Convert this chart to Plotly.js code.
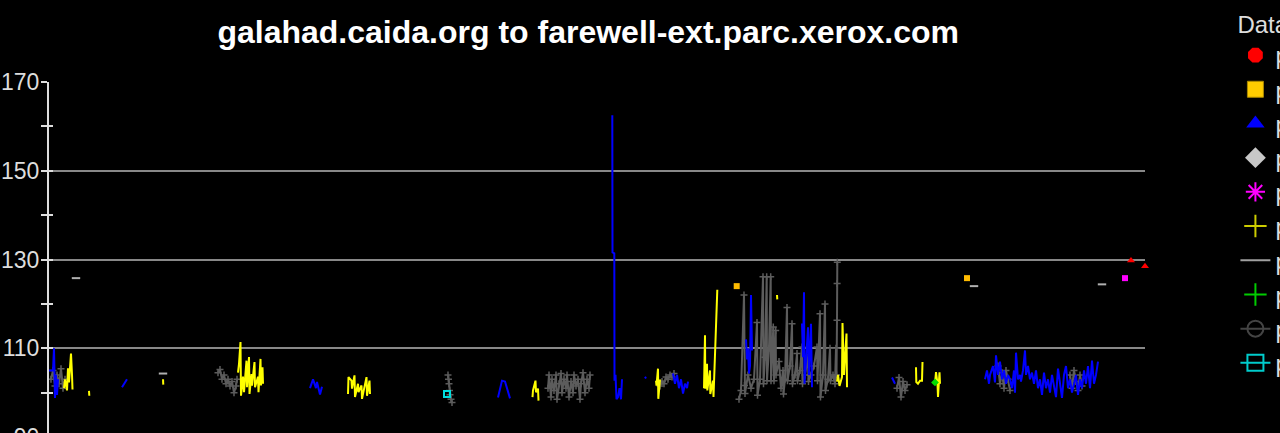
<!DOCTYPE html>
<html><head><meta charset="utf-8">
<script src="https://cdn.plot.ly/plotly-3.0.1.min.js"></script>
<style>html,body{margin:0;padding:0;background:#000;overflow:hidden;width:1280px;height:433px}</style>
</head><body><div id="chart" style="width:1400px;height:480px"></div>
<script>
// ---- data (x = time index, y = RTT ms) ----
const chartTitle = "galahad.caida.org to farewell-ext.parc.xerox.com";
const legendTitle = "Data sets";
const seriesNames = ["path 1","path 2","path 3","path 4","path 5","path 6","path 7","path 8","path 9","path 10"];
const yTicks = [90,110,130,150,170];

const redPts = [[1082,129.8],[1096,128.5]];
const orangePts = [[687.7,124],[918,125.8]];
const magentaPts = [[1076,125.8]];
const greenPts = [[886,102.3]];
const cyanPts = [[398,99.7]];
const lightGrayPts = [[27,125.8],[114,104.3],[925,124],[1053,124.4]];

const bluePts = [
 [0,105],[4,105],[5,110],[6,98.8],[7,104],[8,99.5],[9,103], null,
 [73,101.2],[75,102],[78,103], null,
 [261,101],[264,103],[267,101],[268,102.4],[271,99.6],[273,101.3], null,
 [449,98.9],[453,102.7],[456,102.5],[458,101],[460,99],[461,98.7], null,
 [563.3,162.5],[563.5,131.6],[565.3,131.4],[565.5,102.7],[566.5,104],[567.5,98.5],[569,99],[570.5,101],[572,98.5],[573,103], null,
 [596,103.6],[597,103.2], null,
 [624,104.3],[626,102],[628,104],[630,101],[632,103],[634,99.8],[636,102],[638,101],[639,102.5], null,
 [697,112],[698,107.5],[699,110],[700,104.3],[701,106],[702,122],[703,109.5], null,
 [753,115.6],[754,108],[755,122.6],[755.5,102],[757,107],[758,110],[759,114.7],[760,104],[762,115.5],[763,101.2], null,
 [843,103.4],[845,102.5],[846,102], null,
 [936,103],[938,105],[940,102],[941,104],[944,106],[946,102.3],[947,108.4],[949,104],[951,107],[953,103],[955,105],[957,102],[959,104],[961,103],[963,101],[965,105],[966,100],[967,109],[969,103],[971,104],[972,102.5],[974,105],[976,109.5],[977,104],[979,106],[981,103],[983,104.5],[985,102],[987,105],[989,101],[991,103],[993,99.5],[995,104.5],[997,101],[999,103],[1001,100],[1003,104],[1005,101.5],[1007,99],[1009,105.4],[1011,102],[1013,98.8],[1015,104],[1017,106],[1019,101],[1021,103],[1023,100],[1025,102],[1027,104],[1029,99.5],[1031,103],[1033,101],[1035,105],[1037,102],[1039,106],[1041,101],[1043,107.2],[1045,102],[1047,104],[1049,107]
];

const yellowPts = [
 [15,101],[16,103],[18,100.5],[19,105.5],[20,102.3],[21,107],[22,108.8],[23,104],[23.5,100.7], null,
 [40,100.4],[40.3,99.3], null,
 [114,103],[114.3,101.8], null,
 [189,104.5],[190,106.5],[191.5,111.4],[192,99.3],[194,103.6],[195,100.1],[197.5,107.2],[198,101.2],[200,108],[200.5,99.7],[202.5,104.2],[203,101.6],[205.5,106.9],[206,101.2],[209,103.6],[209.5,100.1],[211.5,107.6],[212,101.6],[213.5,105.7],[214,102], null,
 [299,99.7],[299.5,103.5],[302.5,102.7],[303,100.9],[305.5,103.9],[306,99],[309,102],[309.5,100.1],[312.5,101.6],[313,98.6],[317.5,103.5],[318,99.3],[320.5,102.7],[321,99.7], null,
 [483.5,99],[484,100.5],[486.5,102.7],[487,100.1],[489,100.9],[489.5,98.2], null,
 [607,102.7],[607.5,101.6],[609,105.4],[609.3,98.6],[611,103], null,
 [655,101],[656,112.9],[656.3,100.9],[658,106.5],[658.3,100.5],[661,105],[661.3,99.7],[664,102.7],[664.5,99],[666.5,112.1],[668.3,123.2], null,
 [728,122],[728.3,121], null,
 [788,102.5],[789,104],[790.5,101.5],[793,103.5],[793.5,115.7],[795,104],[797.5,113.3],[798,101.2], null,
 [867,105.7],[867.3,102.4],[869,102],[871,102.7],[873,102.7],[873.5,106.9], null,
 [886,102],[887,104.6],[888.5,102],[889,99],[890.5,104.6],[891,102]
];

const darkGrayPts = [
 [2,103],[4,105],[6,101.5],[8,104],[10,102],[12,105.4],[14,101],[16,103], null,
 [169,104.5],[171,105.2],[173,103],[175,104],[177,102],[179,103],[181,101.5],[183,102.5],[185,100],[187,101.5],[188,103], null,
 [399,104],[399.5,103],[400,102],[400.5,100.5],[401,99.5],[402,98.5],[403,97.8], null,
 [499,101],[500,104],[502,99],[503,103],[505,100.5],[507,104],[508,98.5],[510,102],[512,104.3],[513,100],[515,103],[517,101],[518,104],[520,99],[522,102.5],[524,100],[525,104],[527,101.5],[529,103],[531,98.5],[532,102],[534,104.5],[536,100],[538,103],[540,101],[541,104], null,
 [611,101.5],[613,102.5],[615,102],[617,103.5],[619,103],[621,104],[623,103.5],[625,104.3], null,
 [690,98.5],[692,100.5],[695,122],[695.5,101.6],[696,99.8],[699,104],[702,101],[705,103],[708,115.8],[708.5,99.4],[711,103],[714,126.1],[714.5,102],[716,108],[717.7,126.1],[718,102.7],[720,110],[721.7,126.1],[722,102.7],[724.3,114.8],[725,102.7],[726.7,114],[727,104],[730,107],[732,101],[734,105],[734.5,99.7],[736,103],[738,119.2],[738.5,102.7],[741,106],[743,115.5],[743.5,102],[746,104],[748,108.8],[748.5,102.7],[751,105],[753,110.3],[753.5,102],[756,104],[759,108],[759.5,102.5],[762,104],[765,106],[768,110.3],[768.5,102.7],[771,117.8],[771.5,99],[774,104],[776,120],[776.5,100.5],[779,103],[781,110],[781.5,102.7],[784,104],[786,102],[787,110],[787.5,104],[788,116.3],[788.1,124.6],[788.3,129.4], null,
 [848,101],[850,103.4],[852,99],[854,102.5],[856,100.5],[858,101.8], null,
 [949,106],[951,102],[953,104.5],[955,101],[957,105],[959,103],[961,100.5], null,
 [1021,104],[1023,101],[1025,105],[1027,102.5],[1029,100.5],[1031,104],[1033,101.5]
];

// ---- build ----
function xs(p){return p.map(d=>d?d[0]:null);}
function ys(p){return p.map(d=>d?d[1]:null);}

const GRAY = '#5c5c5c';
const FONT = 'Liberation Sans, Arial, sans-serif';
const data = [];
data.push({x:xs(darkGrayPts),y:ys(darkGrayPts),mode:'lines+markers',line:{color:GRAY,width:2},
  marker:{symbol:'cross-thin-open',size:5,color:GRAY,line:{color:GRAY,width:1.5}},showlegend:false,connectgaps:false});
data.push({x:xs(yellowPts),y:ys(yellowPts),mode:'lines',line:{color:'#ffff00',width:2},showlegend:false,connectgaps:false});
data.push({x:xs(bluePts),y:ys(bluePts),mode:'lines',line:{color:'#0000ff',width:2},showlegend:false,connectgaps:false});
data.push({x:xs(lightGrayPts),y:ys(lightGrayPts),mode:'markers',marker:{symbol:'line-ew',size:6,line:{color:'#b0b0b0',width:2}},showlegend:false});
data.push({x:xs(orangePts),y:ys(orangePts),mode:'markers',marker:{symbol:'square',size:6,color:'#ffbb00'},showlegend:false});
data.push({x:xs(magentaPts),y:ys(magentaPts),mode:'markers',marker:{symbol:'square',size:6,color:'#ff00ff'},showlegend:false});
data.push({x:xs(redPts),y:ys(redPts),mode:'markers',marker:{symbol:'triangle-up',size:7,color:'#ff0000'},showlegend:false,cliponaxis:false});
data.push({x:xs(greenPts),y:ys(greenPts),mode:'markers',marker:{symbol:'diamond',size:6,color:'#00dd00'},showlegend:false});
data.push({x:xs(cyanPts),y:ys(cyanPts),mode:'markers',marker:{symbol:'square-open',size:6,color:'#00dddd',line:{width:2,color:'#00dddd'}},showlegend:false});
const legendStyles = [
 {mode:'markers',marker:{symbol:'octagon',size:16,color:'#ff0000'}},
 {mode:'markers',marker:{symbol:'square',size:16,color:'#ffcc00',line:{color:'#aa8800',width:1}}},
 {mode:'markers',marker:{symbol:'triangle-up',size:16,color:'#0000ff'}},
 {mode:'markers',marker:{symbol:'diamond',size:16,color:'#c8c8c8'}},
 {mode:'markers',marker:{symbol:'asterisk-open',size:16,color:'#ff00ff',line:{color:'#ff00ff',width:2}}},
 {mode:'markers',marker:{symbol:'cross-thin-open',size:16,color:'#cccc00',line:{color:'#cccc00',width:2}}},
 {mode:'lines',line:{color:'#a0a0a0',width:2}},
 {mode:'markers',marker:{symbol:'cross-thin-open',size:16,color:'#00cc00',line:{color:'#00cc00',width:2}}},
 {mode:'lines+markers',line:{color:'#444444',width:2},marker:{symbol:'circle-open',size:16,color:'#444444',line:{color:'#444444',width:2}}},
 {mode:'lines+markers',line:{color:'#00cccc',width:2},marker:{symbol:'square-open',size:16,color:'#00cccc',line:{color:'#00cccc',width:2}}}
];
legendStyles.forEach((s,i)=>{
  data.push(Object.assign({x:[null],y:[null],name:seriesNames[i],showlegend:true,hoverinfo:'skip'},s));
});
data.push({x:[],y:[],yaxis:'y2',showlegend:false,hoverinfo:'skip'});

const layout = {
  width:1400,height:480,
  paper_bgcolor:'#000',plot_bgcolor:'#000',
  margin:{l:49,r:255,t:82,b:43,autoexpand:false},
  hovermode:false,
  title:{text:chartTitle,font:{family:FONT,size:32,color:'#ffffff',weight:'bold'},
    x:0.492,xref:'paper',xanchor:'center',y:1-32/480,yref:'container',yanchor:'middle'},
  xaxis:{range:[0,1096],showgrid:false,zeroline:false,showticklabels:false,ticks:'',showline:true,linecolor:'#dddddd',linewidth:2,fixedrange:true},
  yaxis:{range:[90,170],tickvals:yTicks,ticks:'outside',ticklen:6,tickwidth:2,tickcolor:'#dddddd',
    showgrid:true,gridcolor:'#888888',gridwidth:2,zeroline:false,showline:true,linecolor:'#dddddd',linewidth:2,
    minor:{tickvals:[100,120,140,160],ticks:'outside',ticklen:6,tickwidth:2,tickcolor:'#dddddd',showgrid:false},
    ticklabelstandoff:-3,
    tickfont:{family:FONT,size:23,color:'#dddddd'},fixedrange:true},
  yaxis2:{range:[90,170],overlaying:'y',side:'left',anchor:'x',dtick:10,tick0:90,ticks:'inside',ticklen:4,tickwidth:2,tickcolor:'#dddddd',
    showticklabels:false,showgrid:false,zeroline:false,showline:false,fixedrange:true},
  showlegend:true,
  legend:{x:1.0825,xanchor:'left',y:1.226,yanchor:'top',bgcolor:'rgba(0,0,0,0)',borderwidth:0,maxheight:470,
    font:{family:FONT,size:24,color:'#dddddd'},
    title:{text:legendTitle,font:{family:FONT,size:24,color:'#dddddd'}},
    itemclick:false,itemdoubleclick:false,traceorder:'normal'}
};
Plotly.newPlot('chart',data,layout,{displayModeBar:false,staticPlot:true});
</script></body></html>
